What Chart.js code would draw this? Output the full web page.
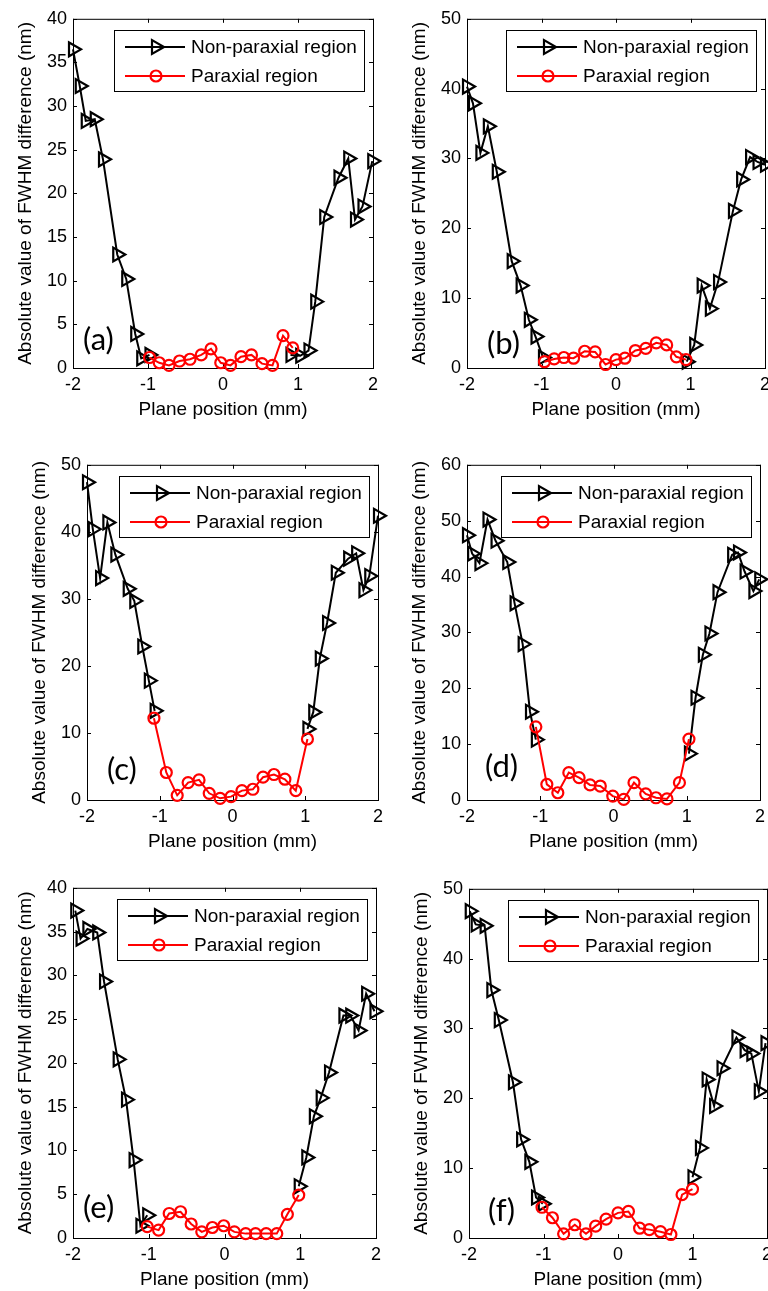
<!DOCTYPE html>
<html>
<head>
<meta charset="utf-8">
<script src="https://cdn.jsdelivr.net/npm/chart.js@4.4.0/dist/chart.umd.min.js"></script>
<style>
  html, body { margin: 0; padding: 0; background: #fff; overflow: hidden; }
  body { width: 768px; height: 1291px; position: relative; }
  canvas { position: absolute; }
</style>
</head>
<body>
<canvas id="pa"></canvas>
<canvas id="pb"></canvas>
<canvas id="pc"></canvas>
<canvas id="pd"></canvas>
<canvas id="pe"></canvas>
<canvas id="pf"></canvas>
<script>
// [plane position (mm), |FWHM difference| (nm)]
const aLeft = [[-2.00,36.5],[-1.91,32.3],[-1.83,28.3],[-1.71,28.5],[-1.60,23.9],[-1.41,13.0],[-1.29,10.2],[-1.17,3.9],[-1.09,1.1],[-0.98,1.5]];
const aMid = [[-0.98,1.2],[-0.85,0.6],[-0.72,0.3],[-0.58,0.8],[-0.44,1.0],[-0.29,1.5],[-0.16,2.2],[-0.03,0.6],[0.10,0.3],[0.24,1.3],[0.38,1.5],[0.52,0.5],[0.66,0.3],[0.80,3.7],[0.93,2.3]];
const aRight = [[0.90,1.5],[1.03,1.4],[1.14,2.0],[1.23,7.6],[1.35,17.3],[1.54,21.8],[1.67,24.0],[1.76,17.0],[1.86,18.5],[1.99,23.7]];

const bLeft = [[-2.00,40.3],[-1.92,37.9],[-1.82,30.8],[-1.72,34.6],[-1.60,28.1],[-1.40,15.3],[-1.28,11.8],[-1.17,6.9],[-1.08,4.5],[-0.98,1.5]];
const bMid = [[-0.96,0.9],[-0.83,1.3],[-0.70,1.5],[-0.57,1.4],[-0.42,2.4],[-0.28,2.3],[-0.14,0.5],[0.00,1.2],[0.12,1.4],[0.26,2.5],[0.40,2.8],[0.54,3.6],[0.68,3.3],[0.81,1.6],[0.94,1.2]];
const bRight = [[0.95,0.9],[1.05,3.3],[1.15,11.8],[1.26,8.5],[1.37,12.3],[1.57,22.5],[1.68,27.0],[1.80,30.2],[1.90,29.5],[2.00,29.1]];

const cLeft = [[-2.00,47.4],[-1.92,40.4],[-1.82,33.1],[-1.72,41.4],[-1.61,36.6],[-1.44,31.5],[-1.35,29.7],[-1.24,22.9],[-1.15,17.8],[-1.07,13.3]];
const cMid = [[-1.08,12.2],[-0.91,4.1],[-0.76,0.7],[-0.61,2.6],[-0.46,3.0],[-0.32,1.0],[-0.17,0.25],[-0.02,0.5],[0.13,1.4],[0.28,1.6],[0.42,3.4],[0.57,3.8],[0.72,3.1],[0.87,1.4],[1.03,9.1]];
const cRight = [[1.03,10.6],[1.11,13.1],[1.20,21.1],[1.30,26.4],[1.42,33.9],[1.59,36.0],[1.70,36.8],[1.80,31.3],[1.88,33.4],[2.00,42.4]];

const dLeft = [[-2.00,47.4],[-1.93,44.1],[-1.83,42.4],[-1.72,50.2],[-1.61,46.4],[-1.45,42.6],[-1.35,35.2],[-1.24,27.9],[-1.14,15.8],[-1.06,10.8]];
const dMid = [[-1.06,13.1],[-0.91,2.8],[-0.76,1.3],[-0.61,4.9],[-0.47,4.0],[-0.32,2.7],[-0.18,2.5],[-0.01,0.7],[0.14,0.1],[0.28,3.1],[0.44,1.1],[0.58,0.4],[0.73,0.2],[0.90,3.1],[1.03,10.9]];
const dRight = [[1.03,8.3],[1.12,18.3],[1.22,26.0],[1.31,29.8],[1.42,37.2],[1.62,43.9],[1.70,44.3],[1.79,40.9],[1.91,37.4],[1.99,39.5]];

const eLeft = [[-1.97,37.4],[-1.90,34.2],[-1.81,35.3],[-1.68,34.9],[-1.59,29.3],[-1.41,20.4],[-1.30,15.8],[-1.20,8.9],[-1.11,1.4],[-1.02,2.6]];
const eMid = [[-1.02,1.3],[-0.87,0.9],[-0.73,2.8],[-0.58,3.0],[-0.44,1.6],[-0.30,0.7],[-0.16,1.2],[-0.01,1.4],[0.13,0.7],[0.28,0.5],[0.41,0.5],[0.55,0.5],[0.69,0.5],[0.83,2.7],[0.98,4.9]];
const eRight = [[0.98,5.9],[1.08,9.2],[1.18,13.9],[1.27,16.0],[1.38,18.9],[1.57,25.4],[1.66,25.4],[1.77,23.7],[1.87,27.9],[1.98,25.9]];

const fLeft = [[-1.99,46.8],[-1.91,44.9],[-1.79,44.7],[-1.70,35.5],[-1.60,31.2],[-1.41,22.3],[-1.30,14.1],[-1.19,10.9],[-1.10,5.8],[-1.01,4.9]];
const fMid = [[-1.02,4.4],[-0.88,2.9],[-0.73,0.6],[-0.58,1.9],[-0.43,0.6],[-0.30,1.7],[-0.16,2.7],[0.00,3.6],[0.14,3.8],[0.29,1.4],[0.42,1.2],[0.57,0.9],[0.71,0.5],[0.86,6.2],[1.00,7.0]];
const fRight = [[1.00,8.7],[1.10,12.9],[1.19,22.7],[1.29,18.9],[1.39,24.3],[1.59,28.7],[1.70,26.9],[1.79,26.4],[1.89,21.0],[1.98,27.9]];

const legendLabels = ['Non-paraxial region', 'Paraxial region'];
const xTitle = 'Plane position (mm)';
const yTitle = 'Absolute value of FWHM difference (nm)';

// plot box of each panel in page pixels, plus where the (a)..(f) tag sits
const panels = [
  { id: 'pa', tag: '(a)', data: [aLeft, aMid, aRight], yMax: 40, yStep: 5,  box: { l: 73,  r: 373, t: 16,  b: 368 },  tagAt: [10, 28] },
  { id: 'pb', tag: '(b)', data: [bLeft, bMid, bRight], yMax: 50, yStep: 10, box: { l: 467, r: 765, t: 16,  b: 368 },  tagAt: [20, 24] },
  { id: 'pc', tag: '(c)', data: [cLeft, cMid, cRight], yMax: 50, yStep: 10, box: { l: 87,  r: 378, t: 462, b: 800 },  tagAt: [20, 30] },
  { id: 'pd', tag: '(d)', data: [dLeft, dMid, dRight], yMax: 60, yStep: 10, box: { l: 467, r: 760, t: 462, b: 800 },  tagAt: [18, 33] },
  { id: 'pe', tag: '(e)', data: [eLeft, eMid, eRight], yMax: 40, yStep: 5,  box: { l: 73,  r: 376, t: 885, b: 1238 }, tagAt: [10, 30] },
  { id: 'pf', tag: '(f)', data: [fLeft, fMid, fRight], yMax: 50, yStep: 10, box: { l: 469, r: 767, t: 886, b: 1238 }, tagAt: [19, 27] },
];

const Y_AXIS_W = 60, X_AXIS_H = 60, PAD_TOP = 14, PAD_RIGHT = 20, TICK = 4;
const FONT = "'Liberation Sans', Arial, sans-serif";

// matlab style frame with inward ticks on all four sides
const framePlugin = {
  id: 'frame',
  beforeDatasetsDraw(chart) {
    const { ctx, chartArea: a, scales: { x, y } } = chart;
    ctx.save();
    ctx.strokeStyle = '#000';
    ctx.lineWidth = 1;
    ctx.strokeRect(a.left + 0.5, a.top + 0.5, a.right - a.left, a.bottom - a.top);
    ctx.beginPath();
    x.ticks.forEach(t => {
      const px = Math.round(x.getPixelForValue(t.value)) + 0.5;
      ctx.moveTo(px, a.bottom); ctx.lineTo(px, a.bottom - TICK);
      ctx.moveTo(px, a.top); ctx.lineTo(px, a.top + TICK);
    });
    y.ticks.forEach(t => {
      const py = Math.round(y.getPixelForValue(t.value)) + 0.5;
      ctx.moveTo(a.left, py); ctx.lineTo(a.left + TICK, py);
      ctx.moveTo(a.right, py); ctx.lineTo(a.right - TICK, py);
    });
    ctx.stroke();
    ctx.restore();
  }
};

const legendPlugin = {
  id: 'boxLegend',
  afterDatasetsDraw(chart, args, opts) {
    const { ctx, chartArea: a } = chart;
    const w = 250, h = 61;
    const x0 = Math.round(a.right - 9 - w), y0 = Math.round(a.top + 11);
    ctx.save();
    ctx.fillStyle = '#fff';
    ctx.fillRect(x0, y0, w, h);
    ctx.strokeStyle = '#000';
    ctx.lineWidth = 1;
    ctx.strokeRect(x0 + 0.5, y0 + 0.5, w, h);
    legendLabels.forEach((label, i) => {
      const ds = chart.data.datasets.find(d => d.label === label);
      const ry = y0 + 17 + i * 29;
      ctx.strokeStyle = ds.borderColor;
      ctx.lineWidth = ds.borderWidth;
      ctx.beginPath();
      ctx.moveTo(x0 + 11, ry); ctx.lineTo(x0 + 71, ry);
      ctx.stroke();
      ctx.fillStyle = 'rgba(0,0,0,0)';
      ctx.lineWidth = ds.pointBorderWidth;
      Chart.helpers.drawPoint(ctx, {
        pointStyle: ds.pointStyle, rotation: ds.pointRotation,
        radius: ds.pointRadius, borderWidth: ds.pointBorderWidth
      }, x0 + 42, ry);
      ctx.fillStyle = '#000';
      ctx.font = '19px ' + FONT;
      ctx.textBaseline = 'middle';
      ctx.fillText(label, x0 + 77, ry + 1);
    });
    ctx.restore();
  }
};

const tagPlugin = {
  id: 'panelTag',
  afterDatasetsDraw(chart, args, opts) {
    const { ctx, chartArea: a } = chart;
    ctx.save();
    ctx.fillStyle = '#000';
    ctx.font = "31px Lato, 'Open Sans', sans-serif";
    ctx.textBaseline = 'middle';
    ctx.fillText(opts.text, a.left + opts.at[0], a.bottom - opts.at[1]);
    ctx.restore();
  }
};

const toXY = pts => pts.map(([x, y]) => ({ x, y }));

const nonParaxial = pts => ({
  label: legendLabels[0],
  data: toXY(pts),
  showLine: true,
  borderColor: '#000',
  borderWidth: 2,
  pointStyle: 'triangle',
  pointRotation: 90,
  pointRadius: 8,
  pointBorderWidth: 2.2,
  pointBorderColor: '#000',
  pointBackgroundColor: 'rgba(0,0,0,0)',
  clip: false
});

const paraxial = pts => ({
  label: legendLabels[1],
  data: toXY(pts),
  showLine: true,
  borderColor: '#f00',
  borderWidth: 2,
  pointStyle: 'circle',
  pointRotation: 0,
  pointRadius: 5.5,
  pointBorderWidth: 2.2,
  pointBorderColor: '#f00',
  pointBackgroundColor: 'rgba(0,0,0,0)',
  clip: false
});

panels.forEach(p => {
  const cv = document.getElementById(p.id);
  const w = p.box.r - p.box.l + Y_AXIS_W + PAD_RIGHT;
  const h = p.box.b - p.box.t + PAD_TOP + X_AXIS_H;
  cv.width = w;
  cv.height = h;
  cv.style.width = w + 'px';
  cv.style.height = h + 'px';
  cv.style.left = (p.box.l - Y_AXIS_W) + 'px';
  cv.style.top = (p.box.t - PAD_TOP) + 'px';

  const [left, mid, right] = p.data;
  new Chart(cv, {
    type: 'scatter',
    // red first so it is painted on top of the black markers
    data: { datasets: [paraxial(mid), nonParaxial(left), nonParaxial(right)] },
    options: {
      responsive: false,
      animation: false,
      devicePixelRatio: 1,
      layout: { padding: { top: PAD_TOP, right: PAD_RIGHT, bottom: 0, left: 0 } },
      plugins: {
        legend: { display: false },
        tooltip: { enabled: false },
        panelTag: { text: p.tag, at: p.tagAt }
      },
      scales: {
        x: {
          type: 'linear',
          min: -2, max: 2,
          ticks: { stepSize: 1, padding: 6, color: '#000', font: { family: FONT, size: 18 } },
          grid: { display: false, drawTicks: false },
          border: { display: false },
          title: { display: true, text: xTitle, color: '#000', padding: { top: 0, bottom: 7 },
                   font: { family: FONT, size: 19 } },
          afterFit: s => { s.height = X_AXIS_H; }
        },
        y: {
          min: 0, max: p.yMax,
          ticks: { stepSize: p.yStep, padding: 6, color: '#000', font: { family: FONT, size: 18 } },
          grid: { display: false, drawTicks: false },
          border: { display: false },
          title: { display: true, text: yTitle, color: '#000', padding: { top: 1, bottom: 0 },
                   font: { family: FONT, size: 19 } },
          afterFit: s => { s.width = Y_AXIS_W; }
        }
      }
    },
    plugins: [framePlugin, legendPlugin, tagPlugin]
  });
});
</script>
</body>
</html>
